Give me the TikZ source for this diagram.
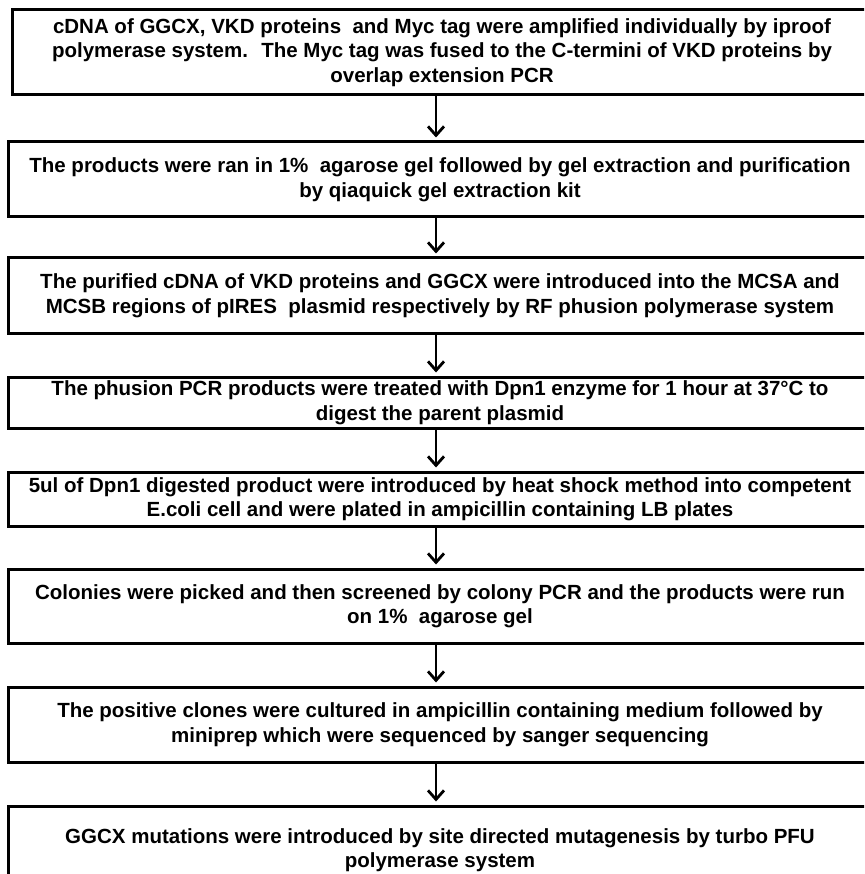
\documentclass[tikz,border=0pt]{standalone}
\usepackage{fontspec}
\setmainfont{Liberation Sans}
\usetikzlibrary{arrows.meta}
\tikzset{
  stepbox/.style={draw=black, line width=3pt, rectangle, inner sep=0pt,
    align=center, font=\fontsize{20.5}{24.5}\selectfont\bfseries, text=black},
  arr/.style={line width=2.8pt, -{Straight Barb[length=9pt,width=16pt,line width=2.8pt]}, shorten >=3pt}
}
\begin{document}
\begin{tikzpicture}[x=1pt,y=-1pt]
\useasboundingbox (0,0) rectangle (864,874);
\clip (0,0) rectangle (864,874);
\node[stepbox, minimum width=860, minimum height=85] (b1) at (442,52.5)
 {cDNA of GGCX, VKD proteins~ and Myc tag were amplified individually by iproof\\
  polymerase system.~ The Myc tag was fused to the C-termini of VKD proteins by\\
  overlap extension PCR};
\node[stepbox, minimum width=864, minimum height=75] (b2) at (440,179.5)
 {The products were ran in 1\%~ agarose gel followed by gel extraction and purification\\
  by qiaquick gel extraction kit};
\node[stepbox, minimum width=864, minimum height=75] (b3) at (440,295.5)
 {The purified cDNA of VKD proteins and GGCX were introduced into the MCSA and\\
  MCSB regions of pIRES~ plasmid respectively by RF phusion polymerase system};
\node[stepbox, minimum width=864, minimum height=51] (b4) at (440,402.5)
 {The phusion PCR products were treated with Dpn1 enzyme for 1 hour at 37°C to\\
  digest the parent plasmid};
\node[stepbox, minimum width=864, minimum height=54] (b5) at (440,499)
 {5ul of Dpn1 digested product were introduced by heat shock method into competent\\
  E.coli cell and were plated in ampicillin containing LB plates};
\node[stepbox, minimum width=864, minimum height=74] (b6) at (440,606)
 {Colonies were picked and then screened by colony PCR and the products were run\\
  on 1\%~ agarose gel};
\node[stepbox, minimum width=864, minimum height=75] (b7) at (440,724.5)
 {The positive clones were cultured in ampicillin containing medium followed by\\
  miniprep which were sequenced by sanger sequencing};
\node[stepbox, minimum width=864, minimum height=88] (b8) at (440,850)
 {GGCX mutations were introduced by site directed mutagenesis by turbo PFU\\
  polymerase system};
\coordinate (ax) at (436,0);
\foreach \a/\b in {b1/b2,b2/b3,b3/b4,b4/b5,b5/b6,b6/b7,b7/b8}
  \draw[arr] (\a.south -| ax) -- (\b.north -| ax);
\end{tikzpicture}
\end{document}
